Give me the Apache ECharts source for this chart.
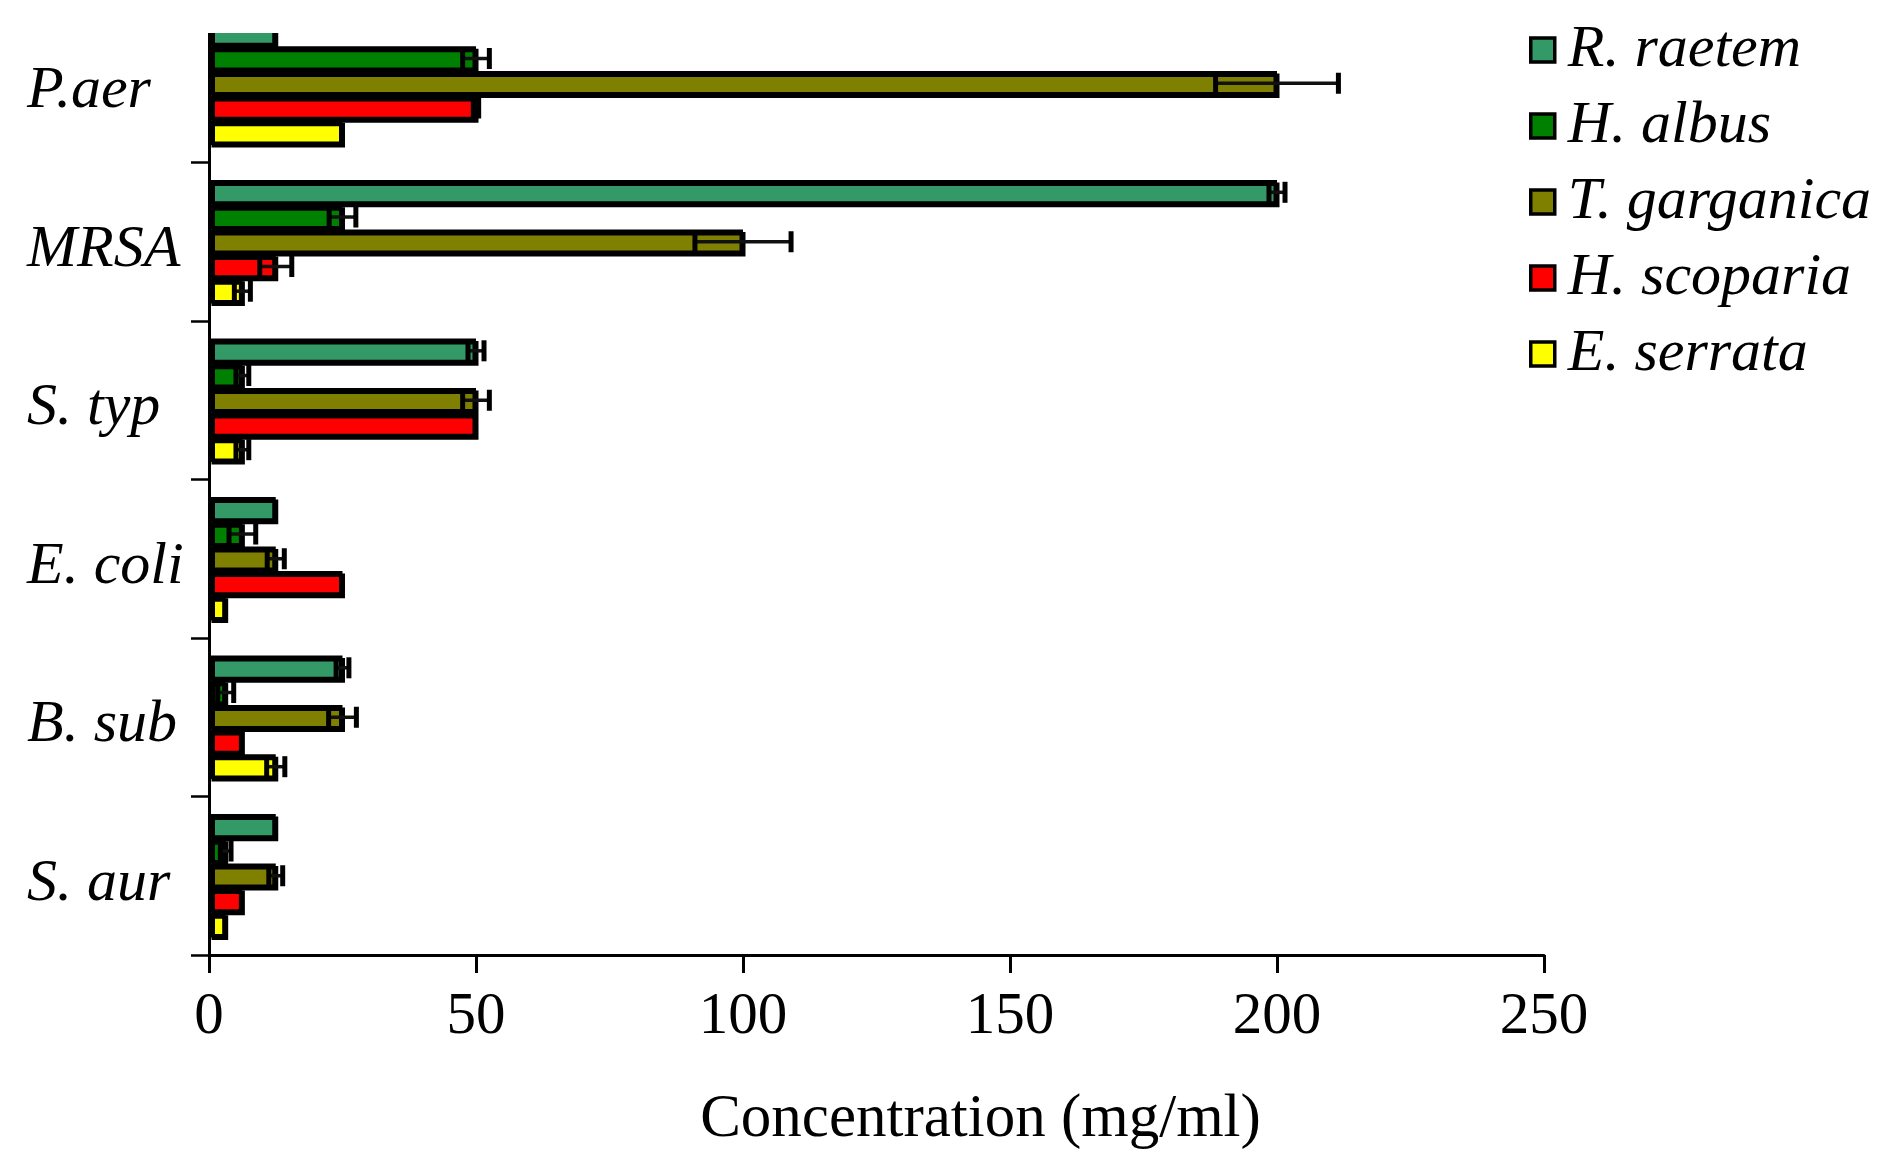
<!DOCTYPE html>
<html>
<head>
<meta charset="utf-8">
<script src="https://cdn.jsdelivr.net/npm/echarts@6/dist/echarts.min.js"></script>
<style>html,body{margin:0;padding:0;background:#fff;}#c{width:1881px;height:1161px;}</style>
</head>
<body>
<div id="c"></div>
<script>
var categories = ['P.aer', 'MRSA', 'S. typ', 'E. coli', 'B. sub', 'S. aur'];
var seriesNames = ['R. raetem', 'H. albus', 'T. garganica', 'H. scoparia', 'E. serrata'];
var colors = ['#339966', '#008000', '#808000', '#FF0000', '#FFFF00'];

var rRaetem     = [12.5, 200, 50, 12.5, 25, 12.5];
var hAlbus      = [50, 25, 6.25, 6.25, 3.125, 3.125];
var tGarganica  = [200, 100, 50, 12.5, 25, 12.5];
var hScoparia   = [50, 12.5, 50, 25, 6.25, 6.25];
var eSerrata    = [25, 6.25, 6.25, 3.125, 12.5, 3.125];

var rRaetemErr    = [0, 1.5, 1.5, 0, 1.2, 0];
var hAlbusErr     = [2.5, 2.5, 1.2, 2.5, 1.5, 1.0];
var tGarganicaErr = [11.5, 9, 2.5, 1.6, 2.6, 1.3];
var hScopariaErr  = [0.5, 3, 0, 0, 0, 0];
var eSerrataErr   = [0, 1.5, 1.2, 0, 1.7, 0];

var xTicks = [0, 50, 100, 150, 200, 250];

var values = [rRaetem, hAlbus, tGarganica, hScoparia, eSerrata];
var errors = [rRaetemErr, hAlbusErr, tGarganicaErr, hScopariaErr, eSerrataErr];

var GROUP = 0.78;
var FONT = 'Liberation Serif';

function makeRender(k, n) {
  return function (params, api) {
    var v = api.value(0), c = api.value(1), e = api.value(2);
    var band = api.size([0, 1])[1];
    var bw = band * GROUP / n;
    var center = api.coord([v, c]);
    var y = center[1] - band * GROUP / 2 + (k + 0.5) * bw;
    var lo = api.coord([v - e, c])[0];
    var hi = api.coord([v + e, c])[0];
    var capH = bw * 0.85;
    return {
      type: 'group',
      children: [
        {type: 'line', shape: {x1: lo, y1: y, x2: hi, y2: y}, style: {stroke: '#111', lineWidth: 3.5}},
        {type: 'line', shape: {x1: lo, y1: y - capH / 2, x2: lo, y2: y + capH / 2}, style: {stroke: '#000', lineWidth: 5}},
        {type: 'line', shape: {x1: hi, y1: y - capH / 2, x2: hi, y2: y + capH / 2}, style: {stroke: '#000', lineWidth: 5}}
      ]
    };
  };
}

var series = [];
seriesNames.forEach(function (name, k) {
  series.push({
    name: name,
    type: 'bar',
    data: values[k],
    barGap: '0%',
    barCategoryGap: ((1 - GROUP) * 100) + '%',
    itemStyle: {
      color: colors[k], borderColor: '#000', borderWidth: 3.5,
      shadowColor: '#000', shadowBlur: 0, shadowOffsetX: 2.5, shadowOffsetY: 2.5
    },
    z: 2
  });
});
seriesNames.forEach(function (name, k) {
  var d = [];
  errors[k].forEach(function (e, i) {
    if (e > 0) d.push([values[k][i], i, e]);
  });
  series.push({
    name: name + ' error',
    type: 'custom',
    renderItem: makeRender(k, seriesNames.length),
    encode: {x: 0, y: 1},
    data: d,
    z: 3,
    silent: true
  });
});

var chart = echarts.init(document.getElementById('c'));
chart.setOption({
  animation: false,
  backgroundColor: '#fff',
  grid: {left: 209, right: 337, top: 4, bottom: 206, containLabel: false},
  legend: {
    data: seriesNames,
    orient: 'vertical',
    left: 1524,
    top: 15,
    itemWidth: 24,
    itemHeight: 24,
    itemGap: 16,
    icon: 'rect',
    itemStyle: {borderColor: '#000', borderWidth: 3.5, shadowBlur: 0, shadowOffsetX: 0, shadowOffsetY: 0},
    textStyle: {fontFamily: FONT, fontStyle: 'italic', fontSize: 60, color: '#000', lineHeight: 48, padding: [0, 0, 0, 8]}
  },
  xAxis: {
    type: 'value',
    min: 0, max: 250, interval: 50,
    name: 'Concentration (mg/ml)',
    nameLocation: 'middle',
    nameGap: 135,
    nameTextStyle: {fontFamily: FONT, fontSize: 61, color: '#000', lineHeight: 60, padding: [0, 0, 0, 208]},
    axisLine: {show: true, lineStyle: {color: '#000', width: 3}},
    axisTick: {show: true, length: 18, lineStyle: {color: '#000', width: 3}},
    axisLabel: {fontFamily: FONT, fontSize: 59, color: '#000', margin: 32, lineHeight: 60,
      formatter: function (v) { return xTicks.indexOf(v) >= 0 ? String(v) : ''; }},
    splitLine: {show: false}
  },
  yAxis: {
    type: 'category',
    data: categories,
    inverse: true,
    axisLine: {show: true, lineStyle: {color: '#000', width: 3}},
    axisTick: {show: true, length: 18, lineStyle: {color: '#000', width: 2.5}},
    axisLabel: {
      align: 'left', margin: 182,
      formatter: function (v) { return '{c|' + v + '}'; },
      rich: {c: {fontFamily: FONT, fontStyle: 'italic', fontSize: 60, color: '#000', lineHeight: 60, padding: [16, 0, 0, 0]}}
    },
    splitLine: {show: false}
  },
  graphic: [{
    type: 'rect',
    left: 150, top: 0,
    shape: {width: 1360, height: 33},
    style: {fill: '#fff'},
    z: 100
  }],
  series: series
});
</script>
</body>
</html>
